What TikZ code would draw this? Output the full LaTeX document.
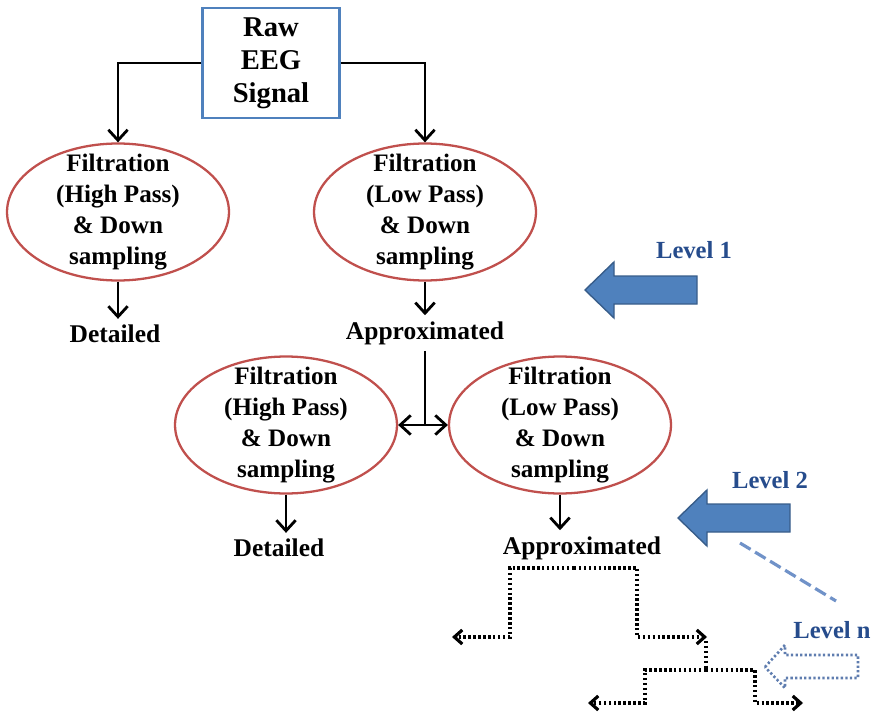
\documentclass[tikz,border=0pt]{standalone}
\usepackage{fontspec}
\setmainfont{Liberation Serif}
\usetikzlibrary{arrows.meta,shapes.geometric}

\definecolor{boxblue}{RGB}{79,129,189}
\definecolor{arrowedge}{RGB}{56,93,138}
\definecolor{ellred}{RGB}{192,80,77}
\definecolor{levelblue}{RGB}{38,76,140}
\definecolor{dashblue}{RGB}{112,146,200}
\definecolor{nblue}{RGB}{95,125,175}

\tikzset{
  filt/.style={ellipse, draw=ellred, line width=1.3pt, minimum width=4.44cm, minimum height=2.74cm, inner sep=0pt},
  ftext/.style={align=center, font=\fontsize{14.3}{17.6}\selectfont\bfseries},
  result/.style={font=\fontsize{14.5}{17}\selectfont\bfseries},
  lvl/.style={text=levelblue, font=\fontsize{14}{16}\selectfont\bfseries},
  arr/.style={line width=1.6pt, -{Straight Barb[length=6pt,width=11pt]}},
  dotline/.style={line width=1.8pt, dash pattern=on 1.4pt off 1.4pt},
  dotarr/.style={dotline, -{Straight Barb[length=4.5pt,width=8pt]}},
}

\begin{document}
\begin{tikzpicture}[x=0.02cm,y=-0.02cm]
  \useasboundingbox (0,0) rectangle (875,713);

  \node[draw=boxblue, line width=1.3pt, minimum width=2.74cm, minimum height=2.2cm,
        align=center, font=\fontsize{16.3}{18.8}\selectfont\bfseries] (raw) at (271,63) {Raw\\EEG\\Signal};

  % level 1
  \node[filt, label={[ftext]center:{Filtration\\(High Pass)\\\& Down\\sampling}}] (hp1) at (118,212) {};
  \node[filt, label={[ftext]center:{Filtration\\(Low Pass)\\\& Down\\sampling}}] (lp1) at (425,212) {};
  \node[result] (det1) at (115,334) {Detailed};
  \node[result] (app1) at (425,333) {Approximated};
  \draw[arr] (raw.west) -| (hp1.north);
  \draw[arr] (raw.east) -| (lp1.north);
  \draw[arr] (hp1.south) -- (hp1.south |- det1.north);
  \draw[arr] (lp1.south) -- (app1.north);

  % level 2
  \node[filt, label={[ftext]center:{Filtration\\(High Pass)\\\& Down\\sampling}}] (hp2) at (286,425) {};
  \node[filt, label={[ftext]center:{Filtration\\(Low Pass)\\\& Down\\sampling}}] (lp2) at (560,425) {};
  \node[result] (det2) at (279,548) {Detailed};
  \node[result] (app2) at (582,548) {Approximated};
  \coordinate (split) at (app1.south |- hp2.east);
  \draw[line width=1.6pt] (app1.south) -- (split);
  \draw[arr] (split) -- (hp2.east);
  \draw[arr] (split) -- (lp2.west);
  \draw[arr] (hp2.south) -- (hp2.south |- det2.north);
  \draw[arr] (lp2.south) -- (lp2.south |- app2.north);

  % big level arrows
  \foreach \tx/\ty in {585/290, 678/518}
    \draw[fill=boxblue, draw=arrowedge, line width=0.8pt]
      (\tx,\ty) -- ++(29,-28) -- ++(0,14) -- ++(83,0) -- ++(0,28) -- ++(-83,0) -- ++(0,14) -- cycle;
  \node[lvl] (lvl1) at (694,250) {Level 1};
  \node[lvl] (lvl2) at (770,480) {Level 2};
  \node[lvl] (lvln) at (832,630) {Level n};
  \draw[dashblue, line width=1.8pt, dash pattern=on 7pt off 3pt] (740,543) -- (836,601);
  \draw[nblue, line width=1.5pt, dash pattern=on 1.3pt off 1.3pt]
    (765,667) -- ++(20,-22) -- ++(0,10) -- ++(73,0) -- ++(0,23) -- ++(-73,0) -- ++(0,10) -- cycle;

  % further levels, dotted
  \coordinate (top) at (574,568);
  \coordinate (mid) at (706,670);
  \draw[dotarr] (top) -| (510,637) -- (452,637);
  \draw[dotarr] (top) -| (637,637) -- (707,637);
  \draw[dotline] (706,641) -- (mid);
  \draw[dotarr] (mid) -| (645,703) -- (588,703);
  \draw[dotarr] (mid) -| (755,703) -- (803,703);
\end{tikzpicture}
\end{document}
